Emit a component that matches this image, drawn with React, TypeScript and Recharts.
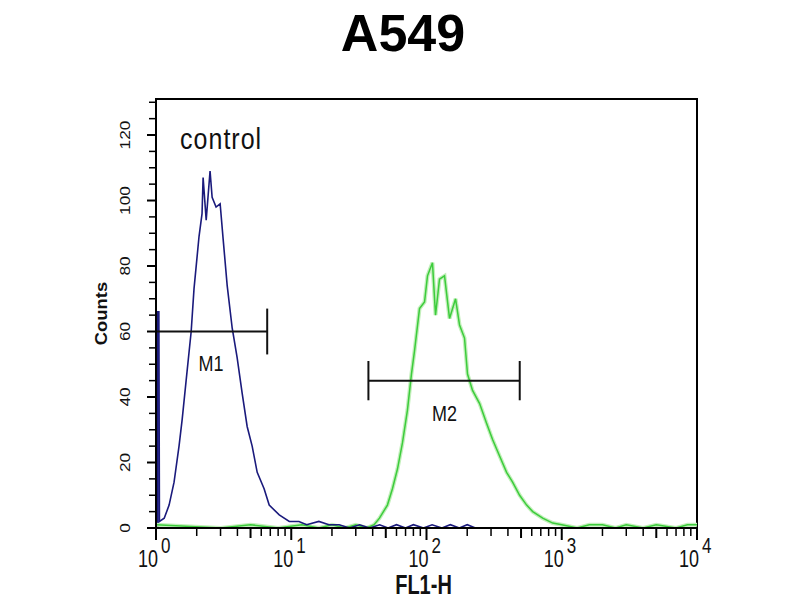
import {
  LineChart,
  Line,
  XAxis,
  YAxis,
  ReferenceLine,
  ReferenceDot,
  ReferenceArea,
  Label,
} from 'recharts';

// control histogram (blue)
const blueFl = [
  1, 1.05, 1.06, 1.15, 1.25, 1.36, 1.48, 1.56, 1.67, 1.82, 1.91, 2.08, 2.19, 2.23, 2.35, 2.51, 2.6,
  2.78, 2.98, 3.14, 3.36, 3.66, 3.98, 4.34, 4.72, 5.14, 5.6, 6.3, 6.87, 8.15, 9.67, 11.4, 13,
  16, 19, 22.6, 27, 32, 38, 45, 52, 60, 70, 80, 95, 110, 130, 150, 175, 200, 230, 10000,
];
const blueCounts = [
  66, 66, 2, 3, 7, 14, 25, 33, 45, 60, 73, 89, 96, 107, 94, 109, 101,
  98, 99, 88, 74, 61, 52, 41, 31, 25, 17, 12, 7, 4, 2, 2, 1,
  2, 1, 1, 0, 1, 0, 1, 0, 1, 0, 1, 0, 1, 0, 1, 0, 1, 0, 0,
];

// A549 histogram (green)
const greenFl = [
  1, 3, 5, 8, 12, 16, 20, 25, 30, 36, 41, 44.9, 51.4, 56, 61, 66.4, 72.3, 77.4, 81.5, 88.8,
  96.7, 101.7, 110.7, 116.6, 124.8, 135.9, 148, 164, 175.5, 191, 201, 219, 247, 278, 308, 347,
  391, 433, 488, 550, 610, 723, 857, 1000, 1300, 1600, 2000, 2500, 3000, 4000, 5000, 7000,
  8500, 10000,
];
const greenCounts = [
  1, 0, 1, 0, 1, 0, 1, 0, 1, 0, 1, 3, 7, 12, 18, 26, 36, 47, 54, 67,
  69, 77, 81, 65, 76, 77, 64, 70, 62, 58, 47, 42, 38, 32, 27, 22,
  17, 14, 10, 7, 5, 3, 1.5, 1, 0, 1, 1, 0, 1, 0, 1, 0,
  1, 1,
];

const xTicks = [
  1, 2, 3, 4, 5, 6, 7, 8, 9,
  10, 20, 30, 40, 50, 60, 70, 80, 90,
  100, 200, 300, 400, 500, 600, 700, 800, 900,
  1000, 2000, 3000, 4000, 5000, 6000, 7000, 8000, 9000,
  10000,
];
const xMajor = [1, 10, 100, 1000, 10000];
const yTicks = [0, 5, 10, 15, 20, 25, 30, 35, 40, 45, 50, 55, 60, 65, 70, 75, 80, 85, 90, 95, 100, 105, 110, 115, 120, 125, 130];
const yLabeled = [0, 20, 40, 60, 80, 100, 120];

// marker gates
const m1Range = [1, 6.64];
const m1Level = 60;
const m1Cap = [53, 67];
const m2Range = [37.2, 489];
const m2Level = 45;
const m2Cap = [39, 51];

const FONT = '"Liberation Sans", Arial, sans-serif';

const toRows = (fl: number[], counts: number[]) => fl.map((v, i) => ({ fl: v, count: counts[i] }));
const blueRows = toRows(blueFl, blueCounts);
const greenRows = toRows(greenFl, greenCounts);

function XTick({ x, y, payload }: any) {
  const v = payload.value;
  const major = xMajor.includes(v);
  const mid = [5, 50, 500, 5000].includes(v);
  return (
    <g>
      <line x1={x} x2={x} y1={y} y2={y + (major ? 12 : mid ? 10 : 8)} stroke="#000" strokeWidth={major || mid ? 2 : 1.5} />
      {major && (
        <g fontFamily={FONT} fill="#111">
          <text transform={`translate(${x + 2},${y + 39}) scale(1,1.3)`} textAnchor="end" fontSize={18}>
            10
          </text>
          <text transform={`translate(${x + 5},${y + 25}) scale(1,1.3)`} fontSize={17}>
            {Math.round(Math.log10(v))}
          </text>
        </g>
      )}
    </g>
  );
}

function YTick({ x, y, payload }: any) {
  const v = payload.value;
  const labeled = yLabeled.includes(v);
  return (
    <g>
      <line x1={x - (labeled ? 9 : 7)} x2={x} y1={y} y2={y} stroke="#000" strokeWidth={labeled ? 2 : 1.5} />
      {labeled && (
        <text
          transform={`translate(${x - 26},${y}) rotate(-90) scale(1.15,1)`}
          textAnchor="middle"
          fontSize={15}
          fontFamily={FONT}
          fill="#111"
        >
          {v}
        </text>
      )}
    </g>
  );
}

const textShape = (text: string, size: number, spacing = 0) => (props: any) => (
  <text
    transform={`translate(${props.cx},${props.cy}) scale(1,1.2)`}
    textAnchor="middle"
    dominantBaseline="central"
    fontSize={size}
    letterSpacing={spacing}
    fontFamily={FONT}
    fill="#111"
  >
    {text}
  </text>
);

export default function App() {
  return (
    <div style={{ position: 'absolute', left: 0, top: 0, width: 800, height: 600, background: '#fff' }}>
      <div
        style={{
          position: 'absolute',
          top: 3,
          left: 0,
          width: 806,
          textAlign: 'center',
          fontFamily: FONT,
          fontWeight: 'bold',
          fontSize: 52,
          lineHeight: '60px',
          color: '#000',
        }}
      >
        A549
      </div>
      <LineChart width={800} height={600} margin={{ top: 99, right: 103, bottom: 0, left: 0 }}>
        <XAxis
          dataKey="fl"
          type="number"
          scale="log"
          domain={[1, 10000]}
          ticks={xTicks}
          interval={0}
          allowDataOverflow
          height={72}
          tickSize={0}
          tickMargin={0}
          tickLine={false}
          tick={<XTick />}
          axisLine={{ stroke: '#000', strokeWidth: 2 }}
        >
          <Label
            content={({ viewBox }: any) => (
              <text
                transform={`translate(${viewBox.x + viewBox.width / 2 - 3},${viewBox.y + 66}) scale(1,1.35)`}
                textAnchor="middle"
                fontSize={20}
                fontWeight="bold"
                fontFamily={FONT}
                fill="#111"
              >
                FL1-H
              </text>
            )}
          />
        </XAxis>
        <YAxis
          type="number"
          domain={[0, 131]}
          ticks={yTicks}
          interval={0}
          allowDataOverflow
          width={156}
          tickSize={0}
          tickMargin={0}
          tickLine={false}
          tick={<YTick />}
          axisLine={{ stroke: '#000', strokeWidth: 2 }}
        >
          <Label
            content={({ viewBox }: any) => (
              <text
                transform={`translate(${viewBox.x + viewBox.width - 49},${viewBox.y + viewBox.height / 2}) rotate(-90) scale(1.15,1)`}
                textAnchor="middle"
                fontSize={16}
                fontWeight="bold"
                fontFamily={FONT}
                fill="#111"
              >
                Counts
              </text>
            )}
          />
        </YAxis>
        <ReferenceArea x1={1} x2={10000} y1={0} y2={131} fill="none" stroke="#000" strokeWidth={2} ifOverflow="visible" />
        {/* first channel of the control histogram is a solid bar against the axis */}
        <ReferenceArea x1={blueFl[0]} x2={blueFl[1]} y1={0} y2={blueCounts[0]} fill="#1a1a7c" fillOpacity={1} stroke="none" />
        <Line data={greenRows} dataKey="count" type="linear" stroke="#c2efba" strokeWidth={4} dot={false} isAnimationActive={false} />
        <Line data={greenRows} dataKey="count" type="linear" stroke="#3ccc3c" strokeWidth={1.5} dot={false} isAnimationActive={false} />
        <Line data={blueRows} dataKey="count" type="linear" stroke="#1a1a7c" strokeWidth={1.6} dot={false} isAnimationActive={false} />

        <ReferenceLine segment={[{ x: m1Range[0], y: m1Level }, { x: m1Range[1], y: m1Level }]} stroke="#111" strokeWidth={2} ifOverflow="visible" />
        <ReferenceLine segment={[{ x: m1Range[0], y: m1Cap[0] }, { x: m1Range[0], y: m1Cap[1] }]} stroke="#111" strokeWidth={2} ifOverflow="visible" />
        <ReferenceLine segment={[{ x: m1Range[1], y: m1Cap[0] }, { x: m1Range[1], y: m1Cap[1] }]} stroke="#111" strokeWidth={2} ifOverflow="visible" />
        <ReferenceLine segment={[{ x: m2Range[0], y: m2Level }, { x: m2Range[1], y: m2Level }]} stroke="#111" strokeWidth={2} ifOverflow="visible" />
        <ReferenceLine segment={[{ x: m2Range[0], y: m2Cap[0] }, { x: m2Range[0], y: m2Cap[1] }]} stroke="#111" strokeWidth={2} ifOverflow="visible" />
        <ReferenceLine segment={[{ x: m2Range[1], y: m2Cap[0] }, { x: m2Range[1], y: m2Cap[1] }]} stroke="#111" strokeWidth={2} ifOverflow="visible" />

        <ReferenceDot x={2.55} y={50.4} r={1} shape={textShape('M1', 18)} />
        <ReferenceDot x={136} y={35} r={1} shape={textShape('M2', 18)} />
        <ReferenceDot x={3.03} y={119} r={1} shape={textShape('control', 25, 1)} />
      </LineChart>
    </div>
  );
}
